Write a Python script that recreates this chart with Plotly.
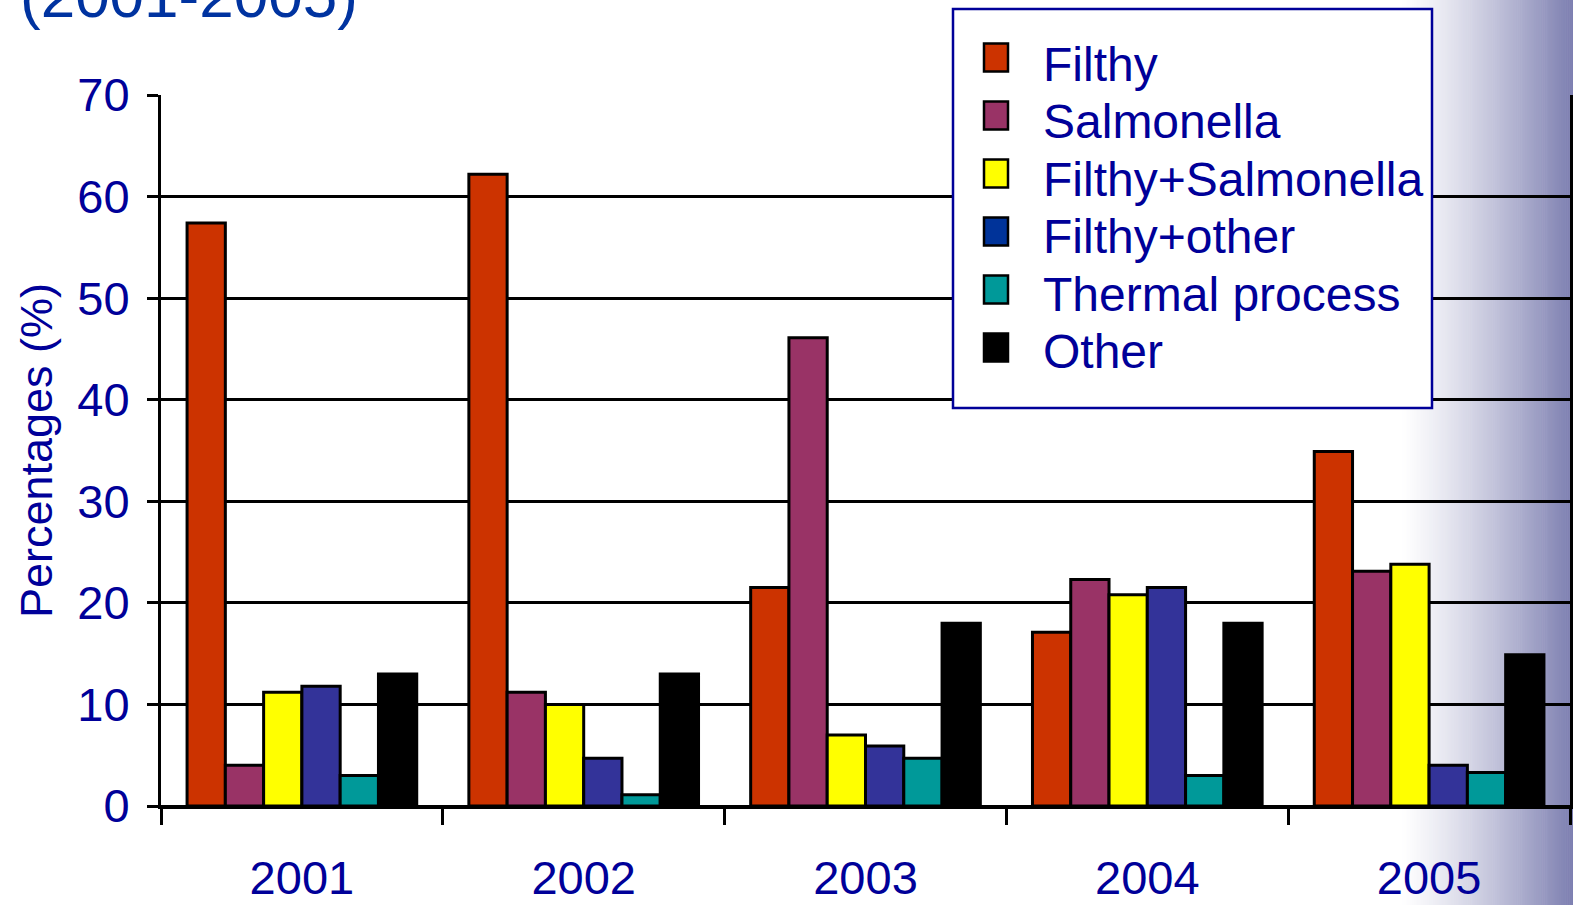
import plotly.graph_objects as go

years = ["2001", "2002", "2003", "2004", "2005"]
series_names = ["Filthy", "Salmonella", "Filthy+Salmonella", "Filthy+other", "Thermal process", "Other"]
filthy = [57.4, 62.2, 21.5, 17.1, 34.9]
salmonella = [4.0, 11.2, 46.1, 22.3, 23.1]
filthy_salmonella = [11.2, 10.0, 7.0, 20.8, 23.8]
filthy_other = [11.8, 4.7, 5.9, 21.5, 4.0]
thermal_process = [3.0, 1.1, 4.7, 3.0, 3.3]
other = [13.0, 13.0, 18.0, 18.0, 14.9]
series_values = [filthy, salmonella, filthy_salmonella, filthy_other, thermal_process, other]
colors = ["#CC3300", "#993366", "#FFFF00", "#333399", "#009999", "#000000"]
legend_colors = ["#CC3300", "#993366", "#FFFF00", "#003399", "#009999", "#000000"]
y_ticks = [0, 10, 20, 30, 40, 50, 60, 70]

W, H = 1573, 905
L, R, T, B = 161, 1570, 95, 806
FONT = "Liberation Sans, Arial, sans-serif"
NAVY = "#000099"


def px(x):
    return (x - L) / (R - L)


def py(y):
    return (B - y) / (B - T)


fig = go.Figure()
for name, vals, col in zip(series_names, series_values, colors):
    fig.add_trace(go.Bar(
        x=years, y=vals, name=name, showlegend=False,
        marker=dict(color=col, line=dict(color="#000000", width=3)),
    ))

shapes = []
# right-edge gradient background
n = 90
gx0, gx1 = 1400, 1573
end = (124, 126, 176)
for i in range(n):
    a = gx0 + (gx1 - gx0) * i / n
    b = gx0 + (gx1 - gx0) * (i + 1) / n + 0.6
    t = ((i + 0.5) / n) ** 1.25
    c = tuple(int(round(255 + (e - 255) * t)) for e in end)
    shapes.append(dict(type="rect", xref="paper", yref="paper", layer="below",
                       x0=px(a), x1=px(b), y0=py(H + 5), y1=py(-5),
                       fillcolor="rgb(%d,%d,%d)" % c, line=dict(width=0)))

# legend box
shapes.append(dict(type="rect", xref="paper", yref="paper", layer="above",
                   x0=px(953), x1=px(1432), y0=py(408), y1=py(9),
                   fillcolor="white", line=dict(color=NAVY, width=2.5)))
annotations = []
for i, (name, col) in enumerate(zip(series_names, legend_colors)):
    ty = 64.5 + i * 57.5
    my = 57.5 + i * 58
    shapes.append(dict(type="rect", xref="paper", yref="paper", layer="above",
                       x0=px(984), x1=px(1008), y0=py(my + 14), y1=py(my - 14),
                       fillcolor=col, line=dict(color="#000000", width=2.5)))
    annotations.append(dict(xref="paper", yref="paper", x=px(1041), y=py(ty),
                            xanchor="left", yanchor="middle", showarrow=False,
                            text=name, font=dict(family=FONT, size=48, color=NAVY)))

annotations.append(dict(xref="paper", yref="paper", x=px(18), y=py(-4),
                        xanchor="left", yanchor="middle", showarrow=False,
                        text="(2001-2005)", font=dict(family=FONT, size=62, color="#0033A0")))

fig.update_layout(
    width=W, height=H,
    margin=dict(l=L, r=W - R, t=T, b=H - B, pad=0, autoexpand=False),
    paper_bgcolor="white", plot_bgcolor="rgba(0,0,0,0)",
    barmode="group", bargap=0.185, bargroupgap=0,
    shapes=shapes, annotations=annotations,
    font=dict(family=FONT, color=NAVY),
    xaxis=dict(type="category", tickson="boundaries", ticks="outside", ticklen=16,
               tickwidth=3, tickcolor="black", showline=True, linecolor="black",
               linewidth=3, showgrid=False, automargin=False,
               tickfont=dict(family=FONT, size=47, color=NAVY), ticklabelstandoff=29),
    yaxis=dict(range=[0, 70], tickvals=y_ticks, ticks="outside", ticklen=11,
               tickwidth=3, tickcolor="black", showline=True, mirror=True,
               linecolor="black", linewidth=3, showgrid=True, gridcolor="black",
               gridwidth=3, zeroline=True, zerolinecolor="black", zerolinewidth=3,
               automargin=False,
               tickfont=dict(family=FONT, size=47, color=NAVY), ticklabelstandoff=8,
               title=dict(text="Percentages (%)", font=dict(family=FONT, size=45, color=NAVY),
                          standoff=11)),
)

fig.write_html("out.html", config={"displayModeBar": False},
               post_script="document.body.style.margin='0';document.body.style.overflow='hidden';")
